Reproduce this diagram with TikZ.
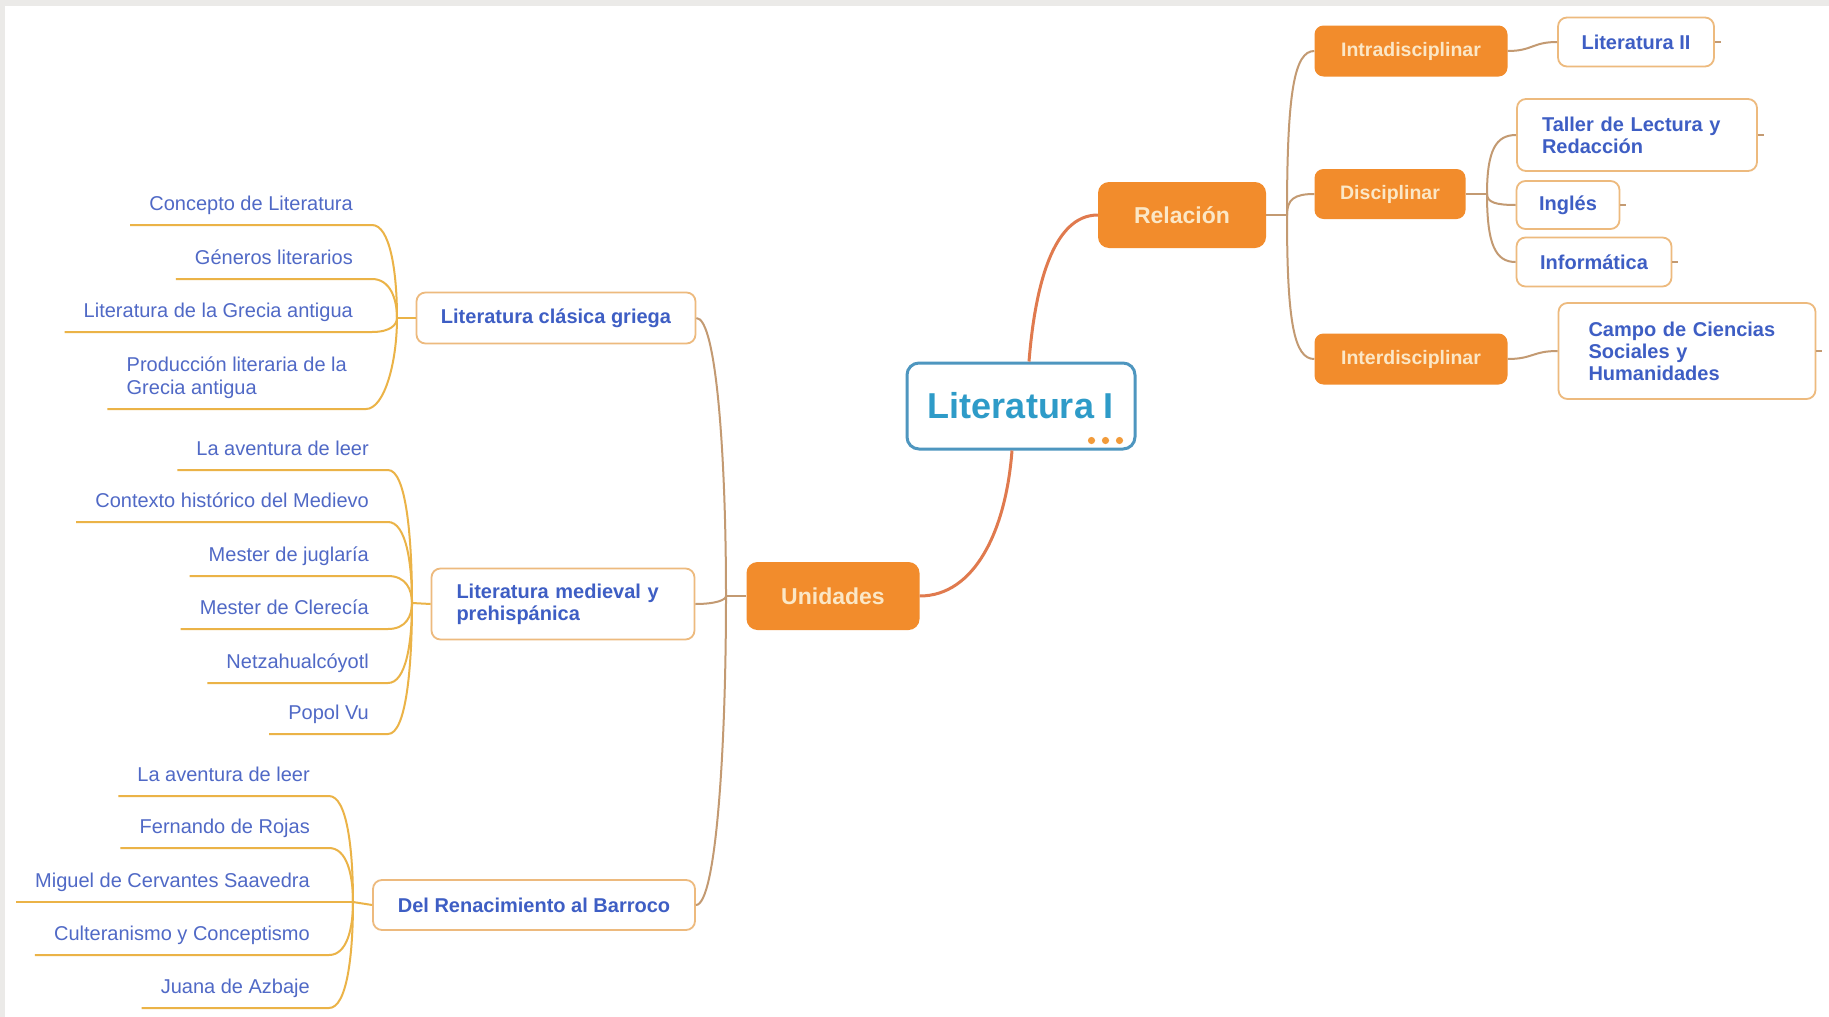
\documentclass[tikz,border=0pt]{standalone}
\usepackage{fontspec}
\setmainfont{Liberation Sans}
\usetikzlibrary{calc}
\definecolor{bggray}{HTML}{EBEAE8}
\definecolor{orfill}{HTML}{F28C2C}
\definecolor{ortext}{HTML}{FBE7C6}
\definecolor{wborder}{HTML}{EDBA7E}
\definecolor{btext}{HTML}{3E5EC4}
\definecolor{ltext}{HTML}{5069C6}
\definecolor{lline}{HTML}{EBB347}
\definecolor{conn}{HTML}{C39A72}
\definecolor{rconn}{HTML}{E07A4E}
\definecolor{rborder}{HTML}{4E96BF}
\definecolor{rtext}{HTML}{2E9BC8}
\definecolor{dotor}{HTML}{F29B3A}
\begin{document}
\begin{tikzpicture}[x=1pt,y=-1pt,
  rootbox/.style={draw=rborder, line width=3pt, fill=white, rounded corners=12pt,
    minimum width=228pt, minimum height=86pt, inner sep=0pt,
    font=\fontsize{36}{40}\selectfont\bfseries, text=rtext},
  obig/.style={fill=orfill, rounded corners=11pt, inner sep=0pt,
    font=\fontsize{23}{26}\selectfont\bfseries, text=ortext},
  osmall/.style={fill=orfill, rounded corners=9pt, inner sep=0pt,
    font=\fontsize{19.5}{22}\selectfont\bfseries, text=ortext},
  wbox/.style={draw=wborder, line width=1.8pt, fill=white, rounded corners=9pt,
    inner sep=0pt, font=\fontsize{20}{22}\selectfont\bfseries, text=btext},
  leaf/.style={anchor=south east, inner xsep=19pt, inner ysep=14pt, text depth=0pt,
    font=\fontsize{20}{23}\selectfont, text=ltext},
  uline/.style={draw=lline, line width=2pt},
  cline/.style={draw=conn, line width=2pt},
  rline/.style={draw=rconn, line width=3pt},
  leafto/.style={to path={.. controls ($(\tikztostart)+(#1,0)$) and ($(\tikztotarget)!0.5!(\tikztotarget|-\tikztostart)$) .. (\tikztotarget)}},
  leafto/.default=18,
  branchto/.style={to path={.. controls ($(\tikztostart)!0.75!(\tikztostart|-\tikztotarget)$) and ($(\tikztotarget)+(-20,0)$) .. (\tikztotarget)}},
  sto/.style={to path={.. controls ($(\tikztostart)+(25,0)$) and ($(\tikztotarget)+(-25,0)$) .. (\tikztotarget)}}
]
\useasboundingbox (0,0) rectangle (1829,1017);
\fill[bggray] (0,0) rectangle (1829,1017);
\fill[white] (4.5,6) rectangle (1829,1017);

% central and main nodes
\node[rootbox] (root) at (1021,406) {Literatura I};
\node[obig, minimum width=168pt, minimum height=66pt] (rel) at (1182,215) {Relación};
\node[obig, minimum width=173pt, minimum height=68pt] (uni) at (833,596) {Unidades};

% right side
\node[osmall, minimum width=193pt, minimum height=51pt] (intra) at (1411,51) {Intradisciplinar};
\node[osmall, minimum width=151pt, minimum height=50pt] (disc) at (1390,194) {Disciplinar};
\node[osmall, minimum width=193pt, minimum height=51pt] (inter) at (1411,359) {Interdisciplinar};

\node[wbox, minimum width=156pt, minimum height=49pt] (lit2) at (1636,42) {Literatura II};
\node[wbox, minimum width=240pt, minimum height=72pt, inner xsep=25pt, text width=190pt, align=left] (taller) at (1637,135) {Taller de Lectura y\\Redacción};
\node[wbox, minimum width=103pt, minimum height=48pt] (ingles) at (1568,205) {Inglés};
\node[wbox, minimum width=155pt, minimum height=49pt] (inform) at (1594,262) {Informática};
\node[wbox, minimum width=257pt, minimum height=96pt, inner xsep=30pt, text width=197pt, align=left] (campo) at (1687,351) {Campo de Ciencias\\Sociales y\\Humanidades};

% group boxes
\node[wbox, minimum width=279pt, minimum height=51pt] (g1) at (556,318) {Literatura clásica griega};
\node[wbox, minimum width=263pt, minimum height=71pt, inner xsep=25pt, text width=213pt, align=left] (g2) at (563,604) {Literatura medieval y\\prehispánica};
\node[wbox, minimum width=322pt, minimum height=50pt] (g3) at (534,905) {Del Renacimiento al Barroco};

% junctions
\coordinate (J1) at (397,318);
\coordinate (J2) at (412,603);
\coordinate (J3) at (353,902);
\coordinate (JU) at (726,596);
\coordinate (JR) at (1287,215);
\coordinate (JD) at (1487,194);

% leaves group 1
\node[leaf] (a1) at (372,225) {Concepto de Literatura};
\node[leaf] (a2) at (372,279) {Géneros literarios};
\node[leaf] (a3) at (372,332) {Literatura de la Grecia antigua};
\node[leaf, align=left] (a4) at (366,409) {Producción literaria de la\\Grecia antigua};

% leaves group 2
\node[leaf] (b1) at (388,470) {La aventura de leer};
\node[leaf] (b2) at (388,522) {Contexto histórico del Medievo};
\node[leaf] (b3) at (388,576) {Mester de juglaría};
\node[leaf] (b4) at (388,629) {Mester de Clerecía};
\node[leaf] (b5) at (388,683) {Netzahualcóyotl};
\node[leaf] (b6) at (388,734) {Popol Vu};

% leaves group 3
\node[leaf] (c1) at (329,796) {La aventura de leer};
\node[leaf] (c2) at (329,848) {Fernando de Rojas};
\node[leaf] (c3) at (329,902) {Miguel de Cervantes Saavedra};
\node[leaf] (c4) at (329,955) {Culteranismo y Conceptismo};
\node[leaf] (c5) at (329,1008) {Juana de Azbaje};

% leaf connectors
\foreach \n in {a1,a2,a3,a4}{
  \draw[uline] (\n.south west) -- (\n.south east) to[leafto] (J1);
}
\foreach \n in {b1,b2,b3,b4,b5,b6}{
  \draw[uline] (\n.south west) -- (\n.south east) to[leafto] (J2);
}
\foreach \n in {c1,c2,c3,c4,c5}{
  \draw[uline] (\n.south west) -- (\n.south east) to[leafto] (J3);
}
\draw[uline] (J1) -- (g1.west);
\draw[uline] (J2) -- (g2.west);
\draw[uline] (J3) -- (g3.west);

% groups to Unidades
\draw[cline] (uni.west) -- (JU);
\draw[cline] (g1.east) to[leafto=20] (JU);
\draw[cline] (g2.east) to[leafto=20] (JU);
\draw[cline] (g3.east) to[leafto=20] (JU);

% root connectors
\draw[rline] ([xshift=8pt]root.north) .. controls +(6,-75) and +(-45,0) .. (rel.west);
\draw[rline] ([xshift=-9pt]root.south) .. controls +(-6,80) and +(55,0) .. (uni.east);

% relation branches
\draw[cline] (rel.east) -- (JR);
\draw[cline] (JR) to[branchto] (intra.west);
\draw[cline] (JR) to[branchto] (disc.west);
\draw[cline] (JR) to[branchto] (inter.west);
\draw[cline] (intra.east) to[sto] (lit2.west);
\draw[cline] (inter.east) to[sto] (campo.west);
\draw[cline] (disc.east) -- (JD);
\draw[cline] (JD) to[branchto] (taller.west);
\draw[cline] (JD) to[branchto] (ingles.west);
\draw[cline] (JD) to[branchto] (inform.west);

% collapse ticks
\foreach \n in {lit2,taller,ingles,inform,campo}{
  \draw[cline, line width=1.5pt] (\n.east) -- +(6,0);
}

% root dots
\fill[dotor] ($(root.south east)+(-45,-10)$) circle (3.6);
\fill[dotor] ($(root.south east)+(-31,-10)$) circle (3.6);
\fill[dotor] ($(root.south east)+(-17,-10)$) circle (3.6);
\end{tikzpicture}
\end{document}
